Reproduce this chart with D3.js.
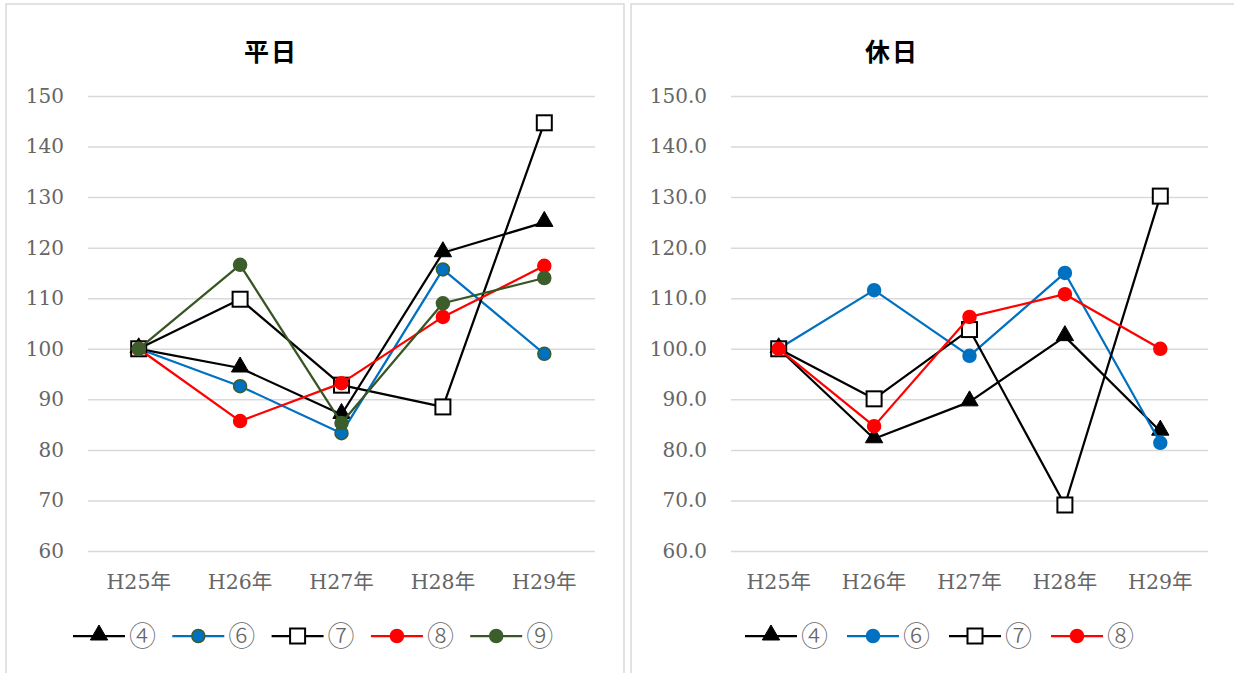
<!DOCTYPE html>
<html><head><meta charset="utf-8">
<script src="https://cdn.jsdelivr.net/npm/d3@7"></script>
<style>body{margin:0;background:#fff;}svg{display:block;}</style>
</head><body>
<script>
const categories = ["H25年","H26年","H27年","H28年","H29年"];
const yTicks = [60,70,80,90,100,110,120,130,140,150];
const seriesNames = ["④","⑥","⑦","⑧","⑨"];
// 平日
const wd4 = [100, 96.2, 87.0, 119.0, 125.0];
const wd6 = [100, 92.6, 83.3, 115.7, 99.0];
const wd7 = [100, 109.8, 92.8, 88.5, 144.7];
const wd8 = [100, 85.7, 93.2, 106.3, 116.4];
const wd9 = [100, 116.6, 85.3, 109.0, 114.0];
// 休日
const hd4 = [100, 82.2, 89.5, 102.4, 83.7];
const hd6 = [100, 111.6, 98.6, 115.0, 81.4];
const hd7 = [100, 90.1, 103.8, 69.1, 130.2];
const hd8 = [100, 84.7, 106.3, 110.8, 100.0];

const W = 1234, H = 673;
const svg = d3.select("body").append("svg").attr("width", W).attr("height", H);

const styles = {
  "④": {line:"#000000", marker:"triangle", fill:"#000000", stroke:"#000000"},
  "⑥": {line:"#0070C0", marker:"circle", fill:"#0070C0", stroke:"#0070C0"},
  "⑥g": {line:"#0070C0", marker:"circle", fill:"#0070C0", stroke:"#3B5E2B"},
  "⑦": {line:"#000000", marker:"square", fill:"#FFFFFF", stroke:"#000000"},
  "⑧": {line:"#FF0000", marker:"circle", fill:"#FF0000", stroke:"#FF0000"},
  "⑨": {line:"#375623", marker:"circle", fill:"#3B5E2B", stroke:"#3B5E2B"}
};

function drawMarker(g, type, x, y, st) {
  if (type === "circle") {
    g.append("circle").attr("cx", x).attr("cy", y).attr("r", 6.5)
      .attr("fill", st.fill).attr("stroke", st.stroke).attr("stroke-width", 1.5);
  } else if (type === "square") {
    g.append("rect").attr("x", x-7.5).attr("y", y-7.5).attr("width", 15).attr("height", 15)
      .attr("fill", st.fill).attr("stroke", st.stroke).attr("stroke-width", 2);
  } else {
    const s = d3.symbol().type(d3.symbolTriangle).size(130);
    g.append("path").attr("d", s()).attr("transform", `translate(${x},${y-1})`)
      .attr("fill", st.fill).attr("stroke", st.stroke).attr("stroke-width", 1);
  }
}

function chart(cfg) {
  const g = svg.append("g");
  g.append("rect").attr("x", cfg.fx).attr("y", cfg.fy).attr("width", cfg.fw).attr("height", cfg.fh)
    .attr("fill", "#fff").attr("stroke", "#D9D9D9").attr("stroke-width", 1.5);
  g.append("text").attr("x", cfg.tx).attr("y", 61).attr("text-anchor", "middle")
    .attr("font-family", "Noto Sans CJK JP").attr("font-size", 25).attr("font-weight", "bold")
    .attr("letter-spacing", 2)
    .attr("fill", "#000").text(cfg.title);

  const x = d3.scaleBand().domain(categories).range([cfg.x0, cfg.x1]);
  const y = d3.scaleLinear().domain([60, 150]).range([551, 96]);

  const yAxis = d3.axisLeft(y).tickValues(yTicks).tickSize(-(cfg.x1 - cfg.x0)).tickPadding(24)
    .tickFormat(d => cfg.dec ? d3.format(".1f")(d) : String(d));
  const ya = g.append("g").attr("transform", `translate(${cfg.x0},0)`).call(yAxis);
  ya.select(".domain").remove();
  ya.selectAll(".tick line").attr("stroke", "#D9D9D9").attr("stroke-width", 1.5);
  ya.selectAll(".tick text").attr("font-family", "DejaVu Serif, serif")
    .attr("font-size", 20).attr("fill", "#666666");

  const xAxis = d3.axisBottom(x).tickSize(0).tickPadding(23);
  const xa = g.append("g").attr("transform", `translate(0,${y(60)})`).call(xAxis);
  xa.select(".domain").remove();
  xa.selectAll(".tick text").attr("font-family", "DejaVu Serif, Noto Sans CJK JP, serif")
    .attr("font-size", 20.5).attr("fill", "#666666");

  const cx = c => x(c) + x.bandwidth()/2;
  const line = d3.line().x((d,i) => cx(categories[i])).y(d => y(d));
  cfg.series.forEach(s => {
    const st = styles[s.style];
    g.append("path").datum(s.values).attr("d", line).attr("fill", "none")
      .attr("stroke", st.line).attr("stroke-width", 2.25).attr("stroke-linejoin", "round");
    s.values.forEach((v,i) => drawMarker(g, st.marker, cx(categories[i]), y(v), st));
  });

  // legend
  cfg.series.forEach((s, i) => {
    const st = styles[s.style];
    const mx = cfg.lx + i * cfg.ls;
    const ly = 636;
    g.append("line").attr("x1", mx-26).attr("x2", mx+26).attr("y1", ly).attr("y2", ly)
      .attr("stroke", st.line).attr("stroke-width", 2.25);
    drawMarker(g, st.marker, mx, ly, st);
    g.append("text").attr("x", mx+30).attr("y", ly+10)
      .attr("font-family", "Noto Sans CJK JP").attr("font-weight", 300).attr("font-size", 27).attr("fill", "#666666")
      .text(s.name);
  });
}

chart({
  title:"平日", fx:6, fy:4, fw:618, fh:680, tx:271, x0:88, x1:595, dec:false,
  lx:99, ls:99.3,
  series:[
    {name:"④", style:"④", values:wd4},
    {name:"⑥", style:"⑥g", values:wd6},
    {name:"⑦", style:"⑦", values:wd7},
    {name:"⑧", style:"⑧", values:wd8},
    {name:"⑨", style:"⑨", values:wd9}
  ]
});
chart({
  title:"休日", fx:631, fy:4, fw:620, fh:680, tx:892, x0:731, x1:1208, dec:true,
  lx:771, ls:102,
  series:[
    {name:"④", style:"④", values:hd4},
    {name:"⑥", style:"⑥", values:hd6},
    {name:"⑦", style:"⑦", values:hd7},
    {name:"⑧", style:"⑧", values:hd8}
  ]
});
</script>
</body></html>
